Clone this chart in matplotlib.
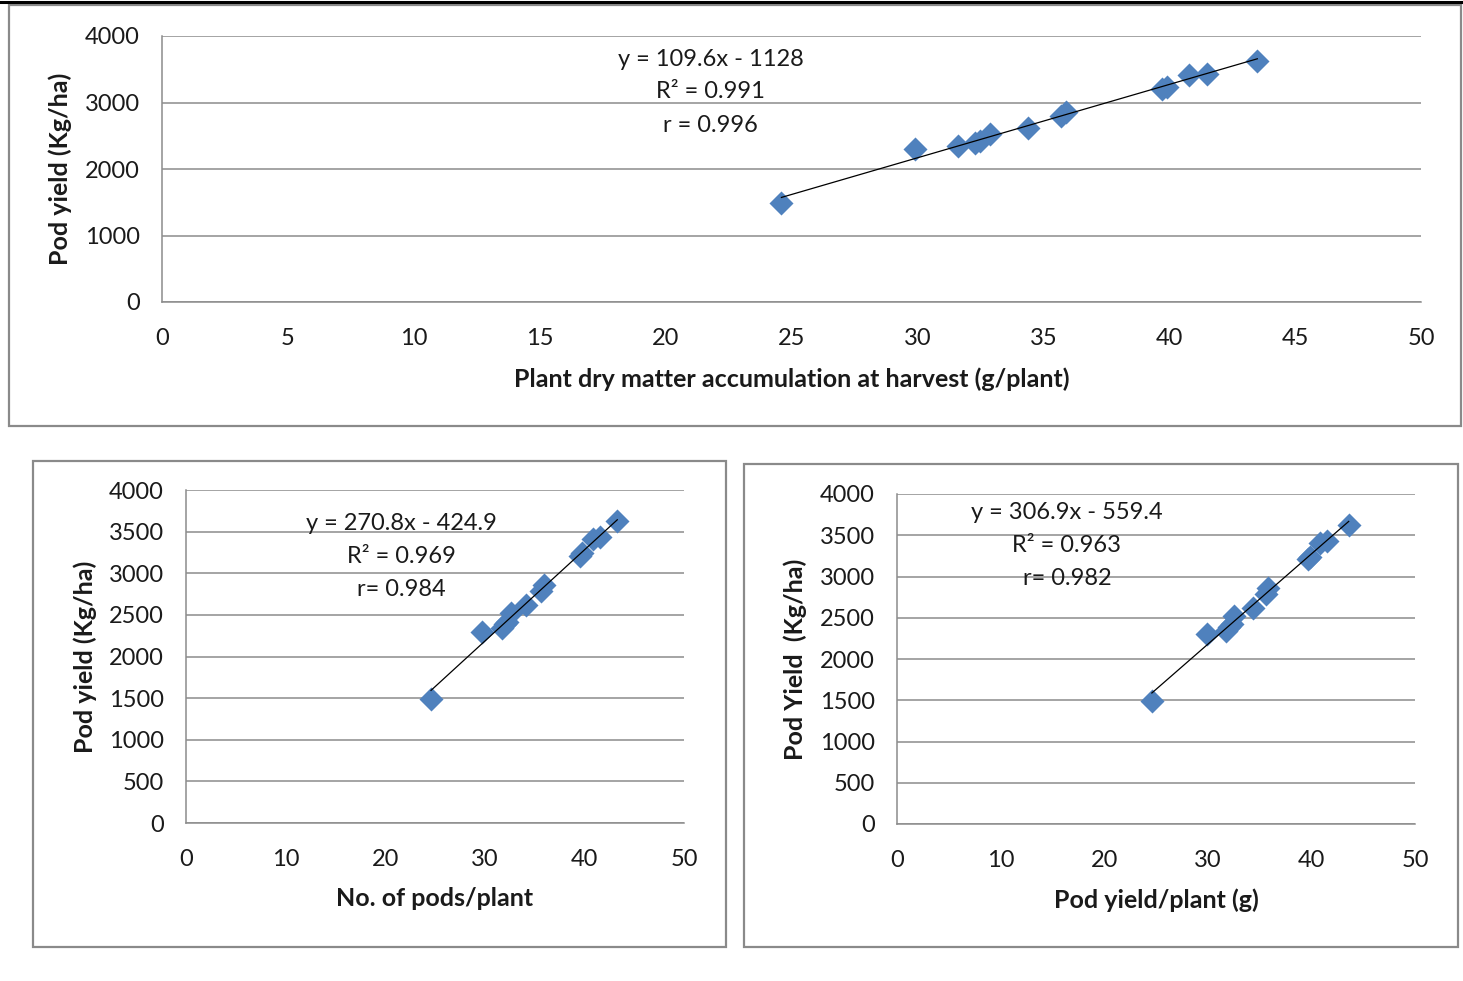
import numpy as np
import matplotlib
matplotlib.use("Agg")
import matplotlib.pyplot as plt
from matplotlib.patches import Rectangle
from matplotlib.lines import Line2D

plt.rcParams['font.family'] = ['Lato', 'DejaVu Sans']

# ---------------- data ----------------
pod_yield_kg_ha = [1490, 2300, 2345, 2390, 2420, 2520, 2620, 2790, 2860, 3210, 3240, 3410, 3430, 3625]
dry_matter_g = [24.6, 29.9, 31.6, 32.3, 32.5, 32.9, 34.4, 35.7, 35.9, 39.7, 39.9, 40.8, 41.5, 43.5]
pods_per_plant = [24.6, 29.7, 31.7, 32.0, 32.2, 32.6, 34.1, 35.6, 35.9, 39.6, 39.8, 40.9, 41.6, 43.3]
pod_yield_per_plant_g = [24.6, 29.9, 31.8, 32.0, 32.3, 32.5, 34.4, 35.6, 35.8, 39.7, 39.9, 40.8, 41.5, 43.6]

top_xticks = [0, 5, 10, 15, 20, 25, 30, 35, 40, 45, 50]
top_yticks = [0, 1000, 2000, 3000, 4000]
bot_xticks = [0, 10, 20, 30, 40, 50]
bot_yticks = [0, 500, 1000, 1500, 2000, 2500, 3000, 3500, 4000]

top_eq = ["y = 109.6x - 1128", "R\u00b2 = 0.991", "r = 0.996"]
left_eq = ["y = 270.8x - 424.9", "R\u00b2 = 0.969", "r= 0.984"]
right_eq = ["y = 306.9x - 559.4", "R\u00b2 = 0.963", "r= 0.982"]

# ---------------- figure ----------------
W, H = 1463, 981
fig = plt.figure(figsize=(W / 100, H / 100), dpi=100)

def fx(px):
    return px / W

def fy(py):
    return 1 - py / H

def panel(x0, y0, x1, y1):
    r = Rectangle((fx(x0), fy(y1)), fx(x1 - x0), (y1 - y0) / H, transform=fig.transFigure,
                  facecolor='white', edgecolor='#8a8a8a', linewidth=1.6, zorder=1)
    fig.patches.append(r)

# page top rule
fig.add_artist(Line2D([0, 1], [fy(2), fy(2)], transform=fig.transFigure, color='black', lw=2.2, zorder=3))

panel(9, 5, 1461, 426)
panel(33, 461, 726, 947)
panel(744, 464, 1458, 947)

GRID = '#8c8c8c'
TXT = '#1a1a1a'
BLUE = '#4F81BD'

def make_axes(x0, y0, x1, y1):
    ax = fig.add_axes([fx(x0), fy(y1), fx(x1 - x0), (y1 - y0) / H])
    ax.set_zorder(2)
    ax.patch.set_alpha(0)
    return ax

def style(ax, xs, ys, xticks, yticks, xlabel, ylabel, eq, eqpos, ylabx, xlaby):
    ax.set_xlim(0, 50)
    ax.set_ylim(0, 4000)
    ax.set_xticks(xticks)
    ax.set_yticks(yticks)
    ax.yaxis.grid(True, color=GRID, lw=1.1)
    ax.set_axisbelow(True)
    for s in ['top', 'right']:
        ax.spines[s].set_visible(False)
    for s in ['left', 'bottom']:
        ax.spines[s].set_color(GRID)
        ax.spines[s].set_linewidth(1.1)
    ax.tick_params(axis='both', length=0, labelsize=17, colors=TXT)
    ax.tick_params(axis='x', pad=19)
    ax.tick_params(axis='y', pad=16)
    ax.scatter(xs, ys, marker='D', s=150, color=BLUE, linewidths=0, zorder=3)
    k, b = np.polyfit(xs, ys, 1)
    xl = np.array([min(xs), max(xs)])
    ax.plot(xl, k * xl + b, color='black', lw=0.9, zorder=4)
    ax.set_xlabel(xlabel, fontsize=18, fontweight='bold', color=TXT)
    ax.set_ylabel(ylabel, fontsize=18, fontweight='bold', color=TXT)
    ax.yaxis.label.set_va('center')
    ax.yaxis.set_label_coords(ylabx, 0.5)
    ax.xaxis.label.set_va('center')
    ax.xaxis.set_label_coords(0.5, xlaby)
    ex, eys = eqpos
    for t, ey in zip(eq, eys):
        ax.text(ex, ey, t, ha='center', va='center', fontsize=17, color=TXT, zorder=5)

# top chart: plot area 162..1421 x, 36..302 y
ax1 = make_axes(162, 36, 1421, 302)
style(ax1, dry_matter_g, pod_yield_kg_ha, top_xticks, top_yticks,
      'Plant dry matter accumulation at harvest (g/plant)', 'Pod yield (Kg/ha)',
      top_eq, (21.8, [3640, 3160, 2660]),
      (60 - 162) / (1421 - 162), -(379 - 302) / (302 - 36))

# bottom-left: 186..684 x, 490..823 y
ax2 = make_axes(186, 490, 684, 823)
style(ax2, pods_per_plant, pod_yield_kg_ha, bot_xticks, bot_yticks,
      'No. of pods/plant', 'Pod yield (Kg/ha)',
      left_eq, (21.6, [3600, 3205, 2810]),
      (85 - 186) / (684 - 186), -(898 - 823) / (823 - 490))

# bottom-right: 897..1415 x, 494..824 y
ax3 = make_axes(897, 494, 1415, 824)
style(ax3, pod_yield_per_plant_g, pod_yield_kg_ha, bot_xticks, bot_yticks,
      'Pod yield/plant (g)', 'Pod Yield  (Kg/ha)',
      right_eq, (16.4, [3770, 3380, 2980]),
      (795 - 897) / (1415 - 897), -(900 - 824) / (824 - 494))

fig.savefig('out.png', dpi=100, facecolor='white')
